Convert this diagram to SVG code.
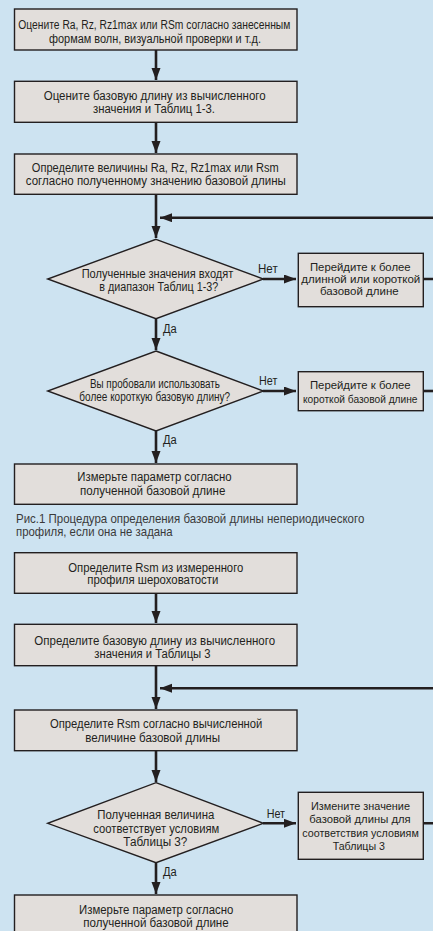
<svg xmlns="http://www.w3.org/2000/svg" width="433" height="931" viewBox="0 0 433 931">
<defs>
<marker id="ah" markerUnits="userSpaceOnUse" markerWidth="13" markerHeight="10" refX="12" refY="4.5" orient="auto">
<path d="M0,0 L12,4.5 L0,9 z" fill="#231f20"/>
</marker>
<style>
.bg{fill:#cde3f1}
.box{fill:#e2dedb;stroke:#231f20;stroke-width:1.4}
.t{font-family:"Liberation Sans",Arial,sans-serif;font-size:12px;fill:#231f20;text-anchor:middle}
.s{font-size:11.2px}
.lbl{font-family:"Liberation Sans",Arial,sans-serif;font-size:12px;fill:#231f20}
.cap{font-family:"Liberation Sans",Arial,sans-serif;font-size:13px;fill:#3a3a3a}
.c{fill:none;stroke:#231f20;stroke-width:2.6}
.ca{fill:none;stroke:#231f20;stroke-width:2.6;marker-end:url(#ah)}
</style>
</defs>
<rect class="bg" x="0" y="0" width="433" height="931"/>

<g id="connectors">
<line class="ca" x1="156" y1="50" x2="156" y2="80"/>
<line class="ca" x1="156" y1="122" x2="156" y2="153"/>
<line class="ca" x1="156" y1="194" x2="156" y2="238"/>
<path class="ca" d="M423,279 H440 V217.7 H160"/>
<line class="ca" x1="263" y1="279" x2="296" y2="279"/>
<path class="c" d="M423,391 H440"/>
<line class="ca" x1="156" y1="319" x2="156" y2="350"/>
<line class="ca" x1="263" y1="391" x2="296" y2="391"/>
<line class="ca" x1="156" y1="431" x2="156" y2="463"/>
<line class="ca" x1="156" y1="593" x2="156" y2="623"/>
<line class="ca" x1="156" y1="666" x2="156" y2="709"/>
<path class="ca" d="M423,823.3 H440 V688.3 H160"/>
<line class="ca" x1="156" y1="751" x2="156" y2="782"/>
<line class="ca" x1="263" y1="823.3" x2="296" y2="823.3"/>
<line class="ca" x1="156" y1="862.7" x2="156" y2="894"/>
<text class="lbl" x="258" y="273.2" textLength="19.7" lengthAdjust="spacingAndGlyphs">Нет</text>
<text class="lbl" x="163" y="332.5" textLength="13.7" lengthAdjust="spacingAndGlyphs">Да</text>
<text class="lbl" x="259" y="384.9" textLength="18.3" lengthAdjust="spacingAndGlyphs">Нет</text>
<text class="lbl" x="163" y="444.2" textLength="13.7" lengthAdjust="spacingAndGlyphs">Да</text>
<text class="lbl" x="266.7" y="817.5" textLength="18.3" lengthAdjust="spacingAndGlyphs">Нет</text>
<text class="lbl" x="163" y="875.9" textLength="13.7" lengthAdjust="spacingAndGlyphs">Да</text>
</g>

<g id="n1">
<rect class="box" x="14.5" y="9" width="282.5" height="41"/>
<text class="t" x="154.3" y="28.7" textLength="272" lengthAdjust="spacingAndGlyphs">Оцените Ra, Rz, Rz1max или RSm согласно занесенным</text>
<text class="t" x="155" y="43.2" textLength="212" lengthAdjust="spacingAndGlyphs">формам волн, визуальной проверки и т.д.</text>
</g>
<g id="n2">
<rect class="box" x="14.5" y="81.3" width="282.5" height="41"/>
<text class="t" x="154.7" y="100.2" textLength="222" lengthAdjust="spacingAndGlyphs">Оцените базовую длину из вычисленного</text>
<text class="t" x="154" y="112.5" textLength="122" lengthAdjust="spacingAndGlyphs">значения и Таблиц 1-3.</text>
</g>
<g id="n3">
<rect class="box" x="14.5" y="154" width="282.5" height="40.3"/>
<text class="t" x="155.3" y="171.7" textLength="247" lengthAdjust="spacingAndGlyphs">Определите величины Ra, Rz, Rz1max или Rsm</text>
<text class="t" x="155.8" y="184.9" textLength="260" lengthAdjust="spacingAndGlyphs">согласно полученному значению базовой длины</text>
</g>
<g id="d1">
<polygon class="box" points="156,239.3 263.3,279 156,318.7 47.7,279"/>
<text class="t" x="157.5" y="277.9" textLength="151.6" lengthAdjust="spacingAndGlyphs">Полученные значения входят</text>
<text class="t" x="158.7" y="291.2" textLength="119" lengthAdjust="spacingAndGlyphs">в диапазон Таблиц 1-3?</text>
</g>
<g id="n4">
<rect class="box" x="298.3" y="253.3" width="125" height="53.4"/>
<text class="t s" x="360.3" y="271.3" textLength="100.7" lengthAdjust="spacingAndGlyphs">Перейдите к более</text>
<text class="t s" x="360.8" y="283" textLength="119" lengthAdjust="spacingAndGlyphs">длинной или короткой</text>
<text class="t s" x="359.3" y="295" textLength="78.7" lengthAdjust="spacingAndGlyphs">базовой длине</text>
</g>
<g id="d2">
<polygon class="box" points="156,351 263.3,391 156,431 47.7,391"/>
<text class="t" x="155" y="387.5" textLength="130" lengthAdjust="spacingAndGlyphs">Вы пробовали использовать</text>
<text class="t" x="154.7" y="400.9" textLength="150.7" lengthAdjust="spacingAndGlyphs">более короткую базовую длину?</text>
</g>
<g id="n5">
<rect class="box" x="298.3" y="371.7" width="125" height="39"/>
<text class="t s" x="360.3" y="389" textLength="100.7" lengthAdjust="spacingAndGlyphs">Перейдите к более</text>
<text class="t s" x="360.3" y="403" textLength="114.5" lengthAdjust="spacingAndGlyphs">короткой базовой длине</text>
</g>
<g id="n6">
<rect class="box" x="14.5" y="464" width="282.5" height="40.3"/>
<text class="t" x="154.5" y="480.9" textLength="154.3" lengthAdjust="spacingAndGlyphs">Измерьте параметр согласно</text>
<text class="t" x="152.7" y="495.2" textLength="145.3" lengthAdjust="spacingAndGlyphs">полученной базовой длине</text>
</g>
<g id="caption">
<text class="cap" x="16" y="522.8" textLength="348.3" lengthAdjust="spacingAndGlyphs">Рис.1 Процедура определения базовой длины непериодического</text>
<text class="cap" x="16" y="536.2" textLength="156.7" lengthAdjust="spacingAndGlyphs">профиля, если она не задана</text>
</g>
<g id="n7">
<rect class="box" x="14.5" y="552.7" width="282.5" height="40.6"/>
<text class="t" x="155.8" y="571.5" textLength="175" lengthAdjust="spacingAndGlyphs">Определите Rsm из измеренного</text>
<text class="t" x="152.8" y="584.2" textLength="131" lengthAdjust="spacingAndGlyphs">профиля шероховатости</text>
</g>
<g id="n8">
<rect class="box" x="14.5" y="624.3" width="282.5" height="41.4"/>
<text class="t" x="154.7" y="644.7" textLength="240.7" lengthAdjust="spacingAndGlyphs">Определите базовую длину из вычисленного</text>
<text class="t" x="152.5" y="658.2" textLength="116.3" lengthAdjust="spacingAndGlyphs">значения и Таблицы 3</text>
</g>
<g id="n9">
<rect class="box" x="14.5" y="710" width="282.5" height="40.7"/>
<text class="t" x="156.2" y="728.2" textLength="212.3" lengthAdjust="spacingAndGlyphs">Определите Rsm согласно вычисленной</text>
<text class="t" x="152.7" y="741.5" textLength="134.7" lengthAdjust="spacingAndGlyphs">величине базовой длины</text>
</g>
<g id="d3">
<polygon class="box" points="156,782.7 263.3,823.3 156,862.7 47.7,823.3"/>
<text class="t" x="155.8" y="819.2" textLength="117" lengthAdjust="spacingAndGlyphs">Полученная величина</text>
<text class="t" x="156.3" y="832.5" textLength="126" lengthAdjust="spacingAndGlyphs">соответствует условиям</text>
<text class="t" x="155.3" y="845.9" textLength="64" lengthAdjust="spacingAndGlyphs">Таблицы 3?</text>
</g>
<g id="n10">
<rect class="box" x="298.3" y="792.3" width="125" height="67"/>
<text class="t s" x="360.5" y="810" textLength="99" lengthAdjust="spacingAndGlyphs">Измените значение</text>
<text class="t s" x="360" y="823" textLength="101.3" lengthAdjust="spacingAndGlyphs">базовой длины для</text>
<text class="t s" x="360.5" y="837.3" textLength="116.5" lengthAdjust="spacingAndGlyphs">соответствия условиям</text>
<text class="t s" x="358.8" y="850" textLength="52.3" lengthAdjust="spacingAndGlyphs">Таблицы 3</text>
</g>
<g id="n11">
<rect class="box" x="14.5" y="895" width="282.5" height="45"/>
<text class="t" x="156.2" y="914.2" textLength="154.3" lengthAdjust="spacingAndGlyphs">Измерьте параметр согласно</text>
<text class="t" x="156" y="926.9" textLength="145.3" lengthAdjust="spacingAndGlyphs">полученной базовой длине</text>
</g>
</svg>
